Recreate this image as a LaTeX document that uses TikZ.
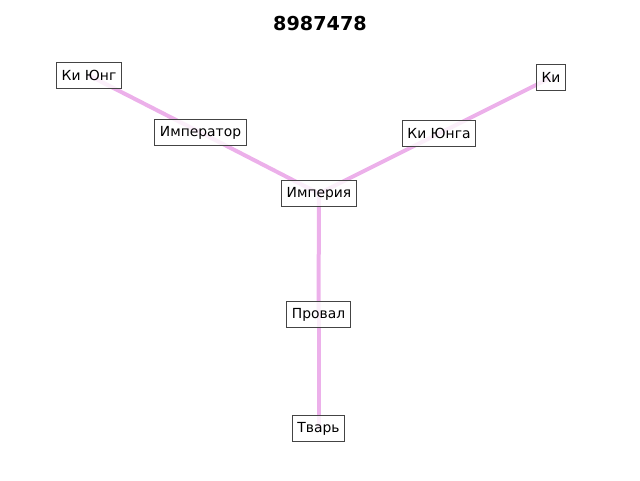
\documentclass[tikz,border=0pt]{standalone}
\usepackage{fontspec}
\setmainfont{DejaVu Sans}
\usetikzlibrary{backgrounds}
\definecolor{edgeviolet}{RGB}{236,176,234}
\definecolor{boxgray}{RGB}{68,68,68}
\tikzset{
    wordbox/.style={draw=boxgray, line width=0.75pt, fill=white, fill opacity=0.8, text opacity=1,
        font=\fontsize{10.4}{12}\selectfont, inner xsep=3.8pt, inner ysep=0pt,
        minimum height=19.5pt},
    link/.style={edgeviolet, line width=3pt}
}
\begin{document}
\begin{tikzpicture}[x=0.75pt, y=-0.75pt]

    % FRAME
    \useasboundingbox (0,0) rectangle (640,480);

    % TITLE
    \node[font=\fontsize{14.4}{16}\selectfont\bfseries] (title) at (320,23.5) {8987478};

    % WORDS
    \node[wordbox] (kiyung)    at (89,75.5)    {Ки Юнг};
    \node[wordbox] (imperator) at (200.5,132.5) {Император};
    \node[wordbox] (imperiya)  at (319,193.5)  {Империя};
    \node[wordbox] (kiyunga)   at (439,133.5)  {Ки Юнга};
    \node[wordbox] (ki)        at (551,77.5)   {Ки};
    \node[wordbox] (proval)    at (318.5,314.5) {Провал};
    \node[wordbox] (tvar)      at (318.5,428.5) {Тварь};

    % LINKS
    \begin{scope}[on background layer]
        \draw[link] (kiyung.center) -- (imperator.center);
        \draw[link] (imperator.center) -- (imperiya.center);
        \draw[link] (ki.center) -- (kiyunga.center);
        \draw[link] (kiyunga.center) -- (imperiya.center);
        \draw[link] (imperiya.center) -- (proval.center);
        \draw[link] (proval.center) -- (tvar.center);
    \end{scope}

\end{tikzpicture}
\end{document}
